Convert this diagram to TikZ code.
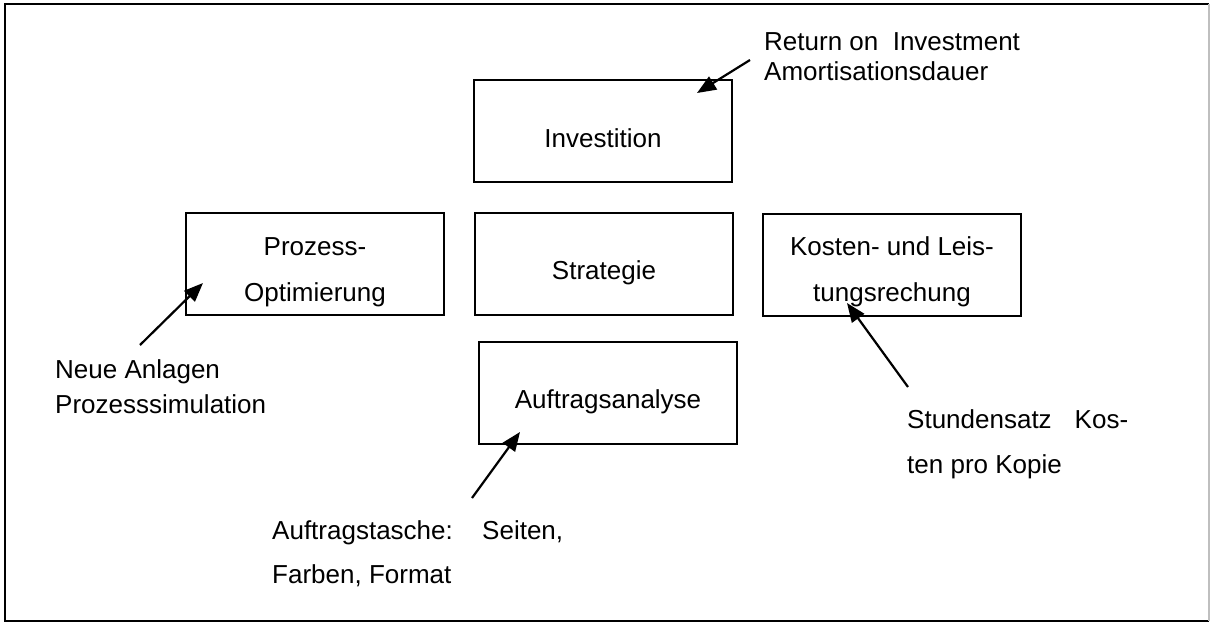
\documentclass[tikz,border=0pt]{standalone}
\usepackage{fontspec}
\setmainfont{Liberation Sans}
\usetikzlibrary{arrows.meta}
\begin{document}
\begin{tikzpicture}[x=1pt,y=-1pt,
  boxnode/.style={draw=black, line width=2pt, minimum width=258pt, minimum height=102pt, inner sep=0pt},
  txt/.style={inner sep=0pt, font=\fontsize{26}{30}\selectfont},
  pointer/.style={line width=2.2pt, -{Triangle[length=19pt,width=15pt]}}]
\useasboundingbox (0,0) rectangle (1211,632);
% outer frame
\draw[line width=2.5pt, black] (1209,621) -- (5,621) -- (5,4) -- (1209,4);
\draw[line width=1.5pt, black!25] (1209,4) -- (1209,621);
% boxes
\node[boxnode] (inv) at (603,131) {};
\node[boxnode] (proz) at (315,264) {};
\node[boxnode] (strat) at (604,263.5) {};
\node[boxnode] (kost) at (892,264.5) {};
\node[boxnode] (auft) at (608,393) {};
% box texts
\node[txt, anchor=base] (invt) at (603,147) {Investition};
\node[txt, anchor=base, font=\fontsize{26}{46}\selectfont] (prozt) at (315,255)
  {\begin{tabular}[t]{@{}c@{}}Prozess-\\Optimierung\end{tabular}};
\node[txt, anchor=base] (stratt) at (604,279) {Strategie};
\node[txt, anchor=base, font=\fontsize{26}{46}\selectfont] (kostt) at (892,255)
  {\begin{tabular}[t]{@{}c@{}}Kosten- und Leis-\\tungsrechung\end{tabular}};
\node[txt, anchor=base] (auftt) at (608,408) {Auftragsanalyse};
% outside labels
\node[txt, anchor=base west, font=\fontsize{26}{30}\selectfont] (ret) at (764,50)
  {\begin{tabular}[t]{@{}l@{}}Return on\ \ Investment\\Amortisationsdauer\end{tabular}};
\node[txt, anchor=base west, font=\fontsize{26}{35}\selectfont] (neu) at (55,378)
  {\begin{tabular}[t]{@{}l@{}}Neue Anlagen\\Prozesssimulation\end{tabular}};
\node[txt, anchor=base west, font=\fontsize{26}{44}\selectfont] (tasche) at (272,539)
  {\begin{tabular}[t]{@{}l@{}}\makebox[291pt][l]{Auftragstasche:\hfill Seiten,}\\Farben, Format\end{tabular}};
\node[txt, anchor=base west, font=\fontsize{26}{45}\selectfont] (stund) at (907,428)
  {\begin{tabular}[t]{@{}l@{}}\makebox[221pt][l]{Stundensatz\hfill Kos-}\\ten pro Kopie\end{tabular}};
% arrow endpoints
\coordinate (rs) at (750,60);
\coordinate (rt) at (697,93);
\coordinate (ps) at (140,345);
\coordinate (pt) at (203,283);
\coordinate (as) at (472,498);
\coordinate (at) at (520,432);
\coordinate (ks) at (908,387);
\coordinate (kt) at (847,303);
\draw[pointer] (rs) -- (rt);
\draw[pointer] (ps) -- (pt);
\draw[pointer] (as) -- (at);
\draw[pointer] (ks) -- (kt);
\end{tikzpicture}
\end{document}
